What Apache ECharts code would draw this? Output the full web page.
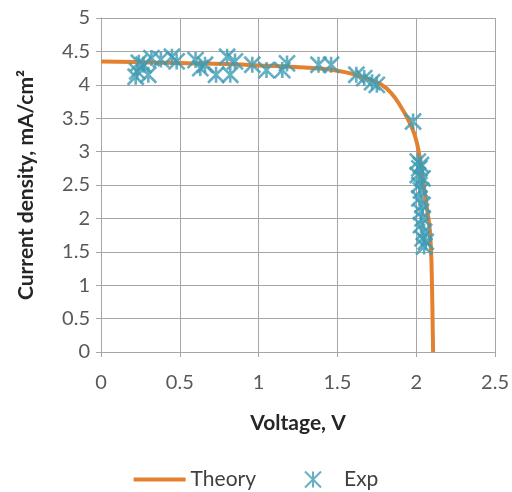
<!DOCTYPE html>
<html>
<head>
<meta charset="utf-8">
<script src="https://cdn.jsdelivr.net/npm/echarts@6/dist/echarts.min.js"></script>
<style>html,body{margin:0;padding:0;background:#fff;}#c{width:512px;height:492px;}</style>
</head>
<body>
<div id="c"></div>
<script>
// Theory curve (Voltage V, Current density mA/cm2)
var theoryV = [0, 0.2, 0.4, 0.6, 0.8, 1.0, 1.2, 1.4, 1.5, 1.6, 1.7, 1.78, 1.84, 1.89, 1.95, 1.99, 2.02, 2.045, 2.07, 2.086, 2.097, 2.107];
var theoryJ = [4.35, 4.34, 4.33, 4.32, 4.31, 4.29, 4.27, 4.24, 4.21, 4.16, 4.08, 4.0, 3.88, 3.72, 3.47, 3.25, 2.95, 2.53, 2.12, 1.83, 1.33, 0];
// Experimental points
var expV = [0.22, 0.23, 0.24, 0.27, 0.30, 0.32, 0.38, 0.45, 0.48, 0.60, 0.63, 0.66, 0.73, 0.80, 0.82, 0.85, 0.96, 1.05, 1.15, 1.18, 1.38, 1.46, 1.62, 1.67, 1.72, 1.75, 1.98,
            2.01, 2.02, 2.03, 2.01, 2.04, 2.02, 2.03, 2.02, 2.04, 2.03, 2.04, 2.03, 2.05, 2.04, 2.06, 2.05];
var expJ = [4.12, 4.20, 4.33, 4.30, 4.15, 4.40, 4.38, 4.42, 4.35, 4.37, 4.25, 4.30, 4.15, 4.42, 4.15, 4.35, 4.30, 4.22, 4.22, 4.32, 4.30, 4.30, 4.15, 4.10, 4.04, 4.00, 3.45,
            2.85, 2.75, 2.80, 2.65, 2.60, 2.50, 2.42, 2.30, 2.20, 2.10, 2.00, 1.90, 1.80, 1.70, 1.65, 1.58];
var xTicks = {min: 0, max: 2.5, interval: 0.5};
var yTicks = {min: 0, max: 5, interval: 0.5};

var theoryData = theoryV.map(function (v, i) { return [v, theoryJ[i]]; });
var expData = expV.map(function (v, i) { return [v, expJ[i]]; });

var star = 'path://M0,0 L10,10 M10,0 L0,10 M5,0 L5,10';
var grey = '#A6A6A6';
var font = 'Lato, "Open Sans", sans-serif';

var chart = echarts.init(document.getElementById('c'));
chart.setOption({
  animation: false,
  textStyle: {fontFamily: font},
  grid: {left: 101, right: 15, top: 18, bottom: 140},
  xAxis: {
    type: 'value', min: xTicks.min, max: xTicks.max, interval: xTicks.interval,
    name: 'Voltage, V', nameLocation: 'middle', nameGap: 61,
    nameTextStyle: {fontFamily: font, fontSize: 21, fontWeight: 'bold', color: '#262626'},
    axisLine: {show: true, lineStyle: {color: grey, width: 1}},
    axisTick: {show: true, length: 5, lineStyle: {color: grey}},
    axisLabel: {fontFamily: font, fontSize: 20, color: '#595959', margin: 21},
    splitLine: {show: true, lineStyle: {color: grey, width: 1}}
  },
  yAxis: {
    type: 'value', min: yTicks.min, max: yTicks.max, interval: yTicks.interval,
    name: 'Current density, mA/cm²', nameLocation: 'middle', nameGap: 64,
    nameTextStyle: {fontFamily: font, fontSize: 21, fontWeight: 'bold', color: '#262626'},
    axisLine: {show: true, lineStyle: {color: grey, width: 1}},
    axisTick: {show: true, length: 5, lineStyle: {color: grey}},
    axisLabel: {fontFamily: font, fontSize: 20, color: '#595959', margin: 11},
    splitLine: {show: true, lineStyle: {color: grey, width: 1}}
  },
  legend: {
    bottom: -3, left: 'center', itemGap: 48, itemWidth: 52, itemHeight: 16,
    textStyle: {fontFamily: font, fontSize: 21, color: '#404040'},
    data: [
      {name: 'Theory', icon: 'path://M0,0 L52,0 L52,4 L0,4 Z', itemStyle: {color: '#E38131'}},
      {name: 'Exp'}
    ]
  },
  series: [
    {
      name: 'Theory', type: 'line', data: theoryData, symbol: 'none', smooth: 0.3,
      lineStyle: {color: '#E38131', width: 4}, itemStyle: {color: '#E38131'}, z: 2
    },
    {
      name: 'Exp', type: 'scatter', data: expData, symbol: star, symbolSize: 16,
      itemStyle: {color: 'rgba(0,0,0,0)', borderColor: '#3D9BB3', borderWidth: 2.6}, z: 3
    }
  ]
});
</script>
</body>
</html>
